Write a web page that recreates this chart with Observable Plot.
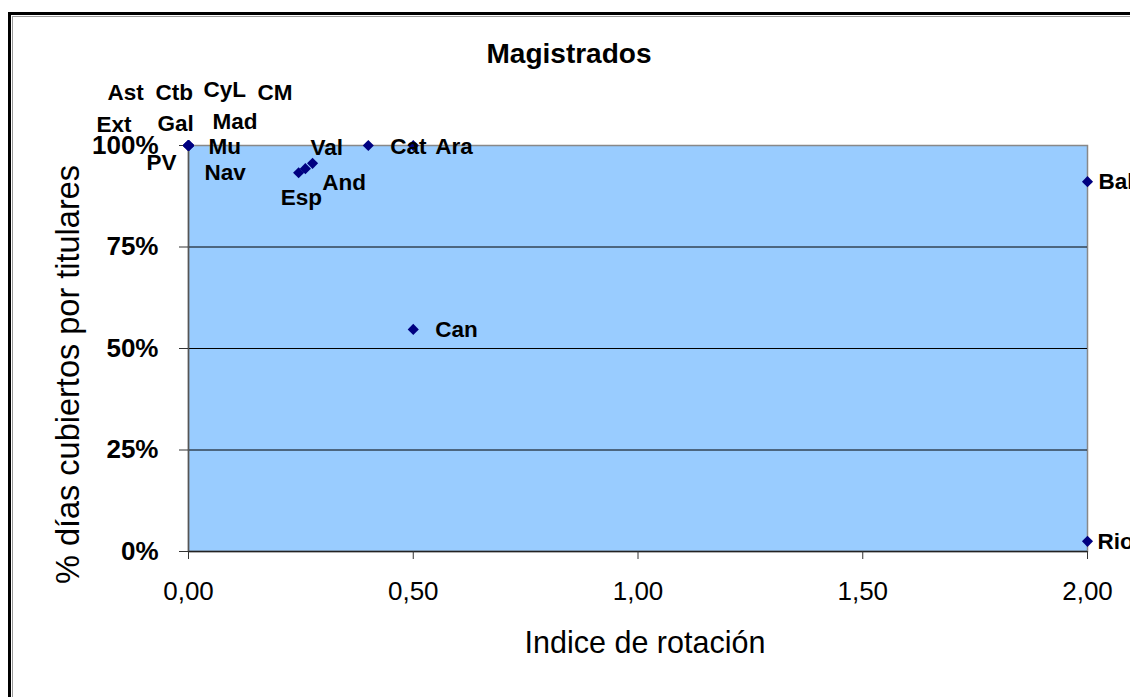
<!DOCTYPE html>
<html>
<head>
<meta charset="utf-8">
<script src="https://cdn.jsdelivr.net/npm/d3@7"></script>
<script src="https://cdn.jsdelivr.net/npm/@observablehq/plot@0.6"></script>
<style>
  html, body { margin: 0; padding: 0; background: #fff; overflow: hidden; width: 1130px; height: 697px; }
  #wrap { position: relative; width: 1130px; height: 697px; }
  #outer { position: absolute; left: 8px; top: 12px; width: 1300px; height: 900px;
           border-left: 3px solid #000; border-top: 3px solid #000; box-sizing: border-box; }
  #inner { position: absolute; left: 1px; top: 1px; width: 1300px; height: 900px;
           border-left: 1px solid #9a9a9a; border-top: 1px solid #9a9a9a; box-sizing: border-box; }
  #chart { position: absolute; left: 0; top: 0; }
  #chart svg { overflow: visible; }
</style>
</head>
<body>
<div id="wrap">
  <div id="outer"><div id="inner"></div></div>
  <div id="chart"></div>
</div>
<script>
// ---- data ----
const regions = ["Ast","Ctb","CyL","CM","Ext","Gal","Mad","Mu","PV","Nav","Esp","And","Val","Cat","Ara","Can","Bal","Rio"];
const rotation = [0,0,0,0,0,0,0,0,0,0,0.245,0.26,0.276,0.40,0.50,0.50,2.00,2.00];
const coverage = [1,1,1,1,1,1,1,1,1,1,0.933,0.943,0.956,1.00,1.00,0.547,0.911,0.025];
const xTicks = [0, 0.5, 1, 1.5, 2];
const yTicks = [0, 0.25, 0.5, 0.75, 1];
const chartTitle = "Magistrados";
const xTitle = "Indice de rotación";
const yTitle = "% días cubiertos por titulares";

// label placement (mimics the spreadsheet's label layout)
const labelOffset = {
  Ast: [-81, -53], Ctb: [-33, -53], CyL: [15, -56], CM: [69, -53],
  Ext: [-92, -21], Gal: [-31, -22], Mad: [24, -24], Mu: [20, 1],
  PV: [-42, 17], Nav: [16, 27], Esp: [-18, 25], And: [17, 14],
  Val: [-2, -16], Cat: [22, 1], Ara: [22, 1], Can: [22, 0],
  Bal: [11, 0], Rio: [10, 0]
};

const points = regions.map((r, i) => ({region: r, x: rotation[i], y: coverage[i]}));

const labelMarks = points.map(p => Plot.text([p], {
  x: "x", y: "y", text: "region",
  dx: labelOffset[p.region][0], dy: labelOffset[p.region][1],
  textAnchor: "start", lineAnchor: "middle",
  fontWeight: "bold", fontSize: 22.5, fill: "#000"
}));

const chart = Plot.plot({
  width: 1130,
  height: 697,
  marginLeft: 188,
  marginRight: 43,
  marginTop: 145,
  marginBottom: 146,
  style: {fontFamily: "'Liberation Sans', Arial, sans-serif", background: "transparent", color: "#000"},
  x: {domain: [0, 2]},
  y: {domain: [0, 1]},
  marks: [
    Plot.frame({fill: "#99CCFF", stroke: "#888888", strokeWidth: 1.5}),
    Plot.ruleY(yTicks.filter(t => t > 0 && t < 1), {stroke: "#000", strokeWidth: 1}),
    Plot.ruleY([0], {stroke: "#222", strokeWidth: 1.5}),
    Plot.ruleX([0], {stroke: "#555", strokeWidth: 1.5}),
    Plot.axisY({ticks: yTicks, tickFormat: d => Math.round(d * 100) + "%", tickSize: 9, tickPadding: 21,
                fontSize: 26, fontWeight: "bold", stroke: "#333", label: null}),
    Plot.axisX({ticks: xTicks, tickFormat: d => d.toFixed(2).replace(".", ","), tickSize: 8, tickPadding: 22,
                fontSize: 26, stroke: "#333", label: null}),
    Plot.dot(points, {x: "x", y: "y", symbol: "diamond2", r: 5, fill: "#000080", stroke: "none"}),
    ...labelMarks,
    Plot.text([chartTitle], {frameAnchor: "top", dx: -69, dy: -91, lineAnchor: "middle", textAnchor: "middle",
               fontSize: 28, fontWeight: "bold"}),
    Plot.text([xTitle], {frameAnchor: "bottom", dx: 7, dy: 92, lineAnchor: "middle", textAnchor: "middle", fontSize: 30.5}),
    Plot.text([yTitle], {frameAnchor: "left", dx: -120, dy: 26, rotate: -90, lineAnchor: "middle", textAnchor: "middle", fontSize: 32.5})
  ]
});
document.getElementById("chart").appendChild(chart);
</script>
</body>
</html>
